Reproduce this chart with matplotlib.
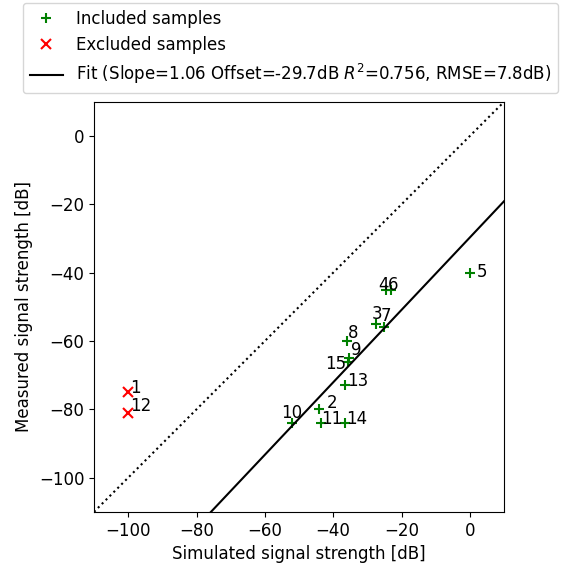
import matplotlib
matplotlib.use("Agg")
import matplotlib.pyplot as plt
import numpy as np

plt.rcParams['font.family'] = ['DejaVu Sans']
plt.rcParams['font.size'] = 12

# Data
sample_ids = [1, 2, 3, 4, 5, 6, 7, 8, 9, 10, 11, 12, 13, 14, 15]
simulated = [-100, -44.2, -27.6, -24.4, 0.0, -23.2, -25.1, -35.9, -35.3, -52.1, -43.6, -100, -36.5, -36.5, -35.8]
measured = [-75, -80, -55, -45, -40, -45, -56, -60, -65, -84, -84, -81, -73, -84, -66]
excluded_ids = [1, 12]

fit_slope = 1.06
fit_offset = -29.7
fit_r2 = 0.756
fit_rmse = 7.8

# Label placement (data coords of text baseline-left), as after label repulsion
label_pos = {
    1: (-99.4, -75.2), 2: (-41.9, -79.6), 3: (-28.7, -53.6), 4: (-26.9, -45.0),
    5: (1.9, -41.2), 6: (-23.9, -45.0), 7: (-26.1, -54.2), 8: (-35.6, -59.1),
    9: (-34.9, -64.2), 10: (-55.1, -82.5), 11: (-43.4, -84.2), 12: (-99.4, -80.6),
    13: (-35.9, -73.1), 14: (-36.3, -84.2), 15: (-42.4, -68.1),
}

fig = plt.figure(figsize=(5.81, 5.67), dpi=100)
ax = fig.add_axes([94/581, 1-512.7/567, 410/581, 411.7/567])

sim = np.array(simulated)
meas = np.array(measured)
ids = np.array(sample_ids)
exc = np.isin(ids, excluded_ids)

ax.plot(sim[~exc], meas[~exc], '+', color='green', markersize=7, markeredgewidth=1.5,
        linestyle='none', label='Included samples')
ax.plot(sim[exc], meas[exc], 'x', color='red', markersize=7, markeredgewidth=1.5,
        linestyle='none', label='Excluded samples')

xr = np.array([-110, 10])
ax.plot(xr, fit_slope * xr + fit_offset, '-', color='black', linewidth=1.5,
        label=f'Fit (Slope={fit_slope:.2f} Offset={fit_offset:.1f}dB $R^2$={fit_r2:.3f}, RMSE={fit_rmse:.1f}dB)')
ax.plot(xr, xr, ':', color='black', linewidth=1.5)

for sid in sample_ids:
    tx, ty = label_pos[sid]
    ax.text(tx, ty, str(sid), ha='left', va='baseline', fontsize=12)

ax.set_xlim(-110, 10)
ax.set_ylim(-110, 10)
ax.set_xticks([-100, -80, -60, -40, -20, 0])
ax.set_yticks([-100, -80, -60, -40, -20, 0])
ax.set_aspect('equal')
ax.set_xlabel('Simulated signal strength [dB]')
ax.set_ylabel('Measured signal strength [dB]')

fig.legend(*ax.get_legend_handles_labels(), loc='upper left',
           bbox_to_anchor=(23/581, 1-3/567), borderaxespad=0, numpoints=1)

fig.savefig('out.png', dpi=100)
